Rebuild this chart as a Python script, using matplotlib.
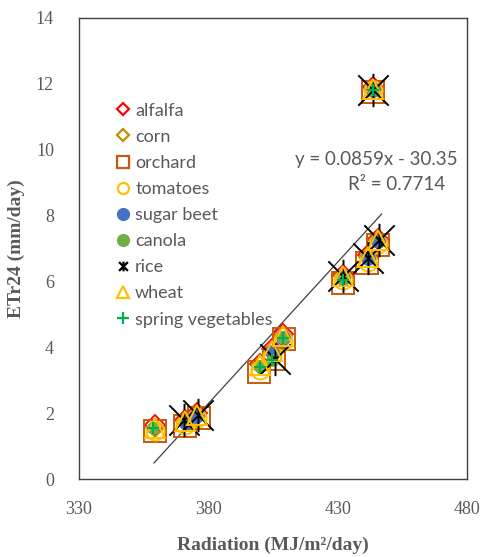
import matplotlib
matplotlib.use("Agg")
import matplotlib.pyplot as plt
from matplotlib.lines import Line2D
from matplotlib.path import Path

# ---- data (Radiation MJ/m2/day, ETr24 mm/day) ----
alfalfa_x = [359.2, 371.0, 375.5, 399.8, 404.8, 408.7, 432.2, 441.7, 445.6, 443.6]
alfalfa_y = [1.65, 1.80, 2.00, 3.50, 3.95, 4.40, 6.20, 6.80, 7.30, 11.90]
corn_x = [359.2, 371.0, 375.5, 399.8, 404.8, 408.7, 432.2, 441.7, 445.6, 443.6]
corn_y = [1.55, 1.75, 1.95, 3.45, 3.90, 4.35, 6.15, 6.75, 7.25, 11.85]
orchard_x = [359.5, 370.8, 376.5, 399.6, 405.5, 409.2, 432.0, 441.5, 445.5, 443.6]
orchard_y = [1.45, 1.60, 1.85, 3.25, 3.65, 4.25, 5.95, 6.55, 7.10, 11.75]
tomatoes_x = [359.2, 371.0, 375.5, 399.8, 404.8, 408.7, 432.2, 441.7, 445.6, 443.6]
tomatoes_y = [1.45, 1.65, 1.85, 3.30, 3.75, 4.20, 6.05, 6.60, 7.15, 11.80]
sugar_beet_x = [371.5, 375.3, 404.8, 408.7, 432.0, 441.6, 445.5, 443.6]
sugar_beet_y = [1.70, 1.90, 3.86, 4.29, 6.10, 6.70, 7.23, 11.82]
canola_x = [358.8, 399.8, 404.8, 408.7, 432.2, 443.6]
canola_y = [1.55, 3.40, 3.60, 4.29, 6.05, 11.82]
rice_x = [370.5, 376.0, 405.6, 432.0, 441.8, 446.0, 443.6]
rice_y = [1.80, 1.95, 3.65, 6.15, 6.70, 7.25, 11.82]
wheat_x = [359.2, 371.0, 375.5, 399.8, 404.8, 408.7, 432.2, 441.7, 445.6, 443.6]
wheat_y = [1.55, 1.75, 1.95, 3.45, 3.90, 4.35, 6.15, 6.75, 7.25, 11.85]
spring_veg_x = [358.8, 399.8, 404.8, 408.7, 432.2, 443.6]
spring_veg_y = [1.55, 3.40, 3.60, 4.29, 6.05, 11.82]

slope, intercept, r2 = 0.0859, -30.35, 0.7714
fit_x = [359.0, 447.0]

x_ticks = [330, 380, 430, 480]
y_ticks = [0, 2, 4, 6, 8, 10, 12, 14]

# ---- styling ----
grey = "#595959"
rice_marker = Path([(-1, -1), (1, 1), (-1, 1), (1, -1), (0, -1.1), (0, 1.1)],
                   [Path.MOVETO, Path.LINETO, Path.MOVETO, Path.LINETO, Path.MOVETO, Path.LINETO])

series = [
    ("alfalfa", alfalfa_x, alfalfa_y, dict(marker="D", mfc="none", mec="#FF0000", ms=10, mew=1.3)),
    ("corn", corn_x, corn_y, dict(marker="D", mfc="none", mec="#BF9000", ms=9, mew=1.3)),
    ("orchard", orchard_x, orchard_y, dict(marker="s", mfc="none", mec="#C55A11", ms=16, mew=1.4)),
    ("tomatoes", tomatoes_x, tomatoes_y, dict(marker="o", mfc="none", mec="#FFC000", ms=13, mew=1.4)),
    ("sugar beet", sugar_beet_x, sugar_beet_y, dict(marker="o", mfc="#4472C4", mec="#4472C4", ms=9.5, mew=1)),
    ("canola", canola_x, canola_y, dict(marker="o", mfc="#70AD47", mec="#70AD47", ms=8, mew=1)),
    ("rice", rice_x, rice_y, dict(marker=rice_marker, mfc="none", mec="#000000", ms=24, mew=1.4)),
    ("wheat", wheat_x, wheat_y, dict(marker="^", mfc="none", mec="#FFC000", ms=15, mew=1.4)),
    ("spring vegetables", spring_veg_x, spring_veg_y, dict(marker="+", mfc="none", mec="#00B050", ms=8, mew=1.5)),
]

legend_styles = {
    "alfalfa": dict(marker="D", mfc="none", mec="#FF0000", ms=6, mew=1.6),
    "corn": dict(marker="D", mfc="none", mec="#BF9000", ms=6, mew=1.6),
    "orchard": dict(marker="s", mfc="none", mec="#C55A11", ms=8, mew=1.6),
    "tomatoes": dict(marker="o", mfc="none", mec="#FFC000", ms=8, mew=1.6),
    "sugar beet": dict(marker="o", mfc="#4472C4", mec="#4472C4", ms=8.5, mew=1),
    "canola": dict(marker="o", mfc="#70AD47", mec="#70AD47", ms=8.5, mew=1),
    "rice": dict(marker=rice_marker, mfc="none", mec="#000000", ms=7, mew=1.6),
    "wheat": dict(marker="^", mfc="none", mec="#FFC000", ms=9, mew=1.6),
    "spring vegetables": dict(marker="+", mfc="none", mec="#00B050", ms=9, mew=1.6),
}

fig = plt.figure(figsize=(4.82, 5.57), dpi=100)
ax = fig.add_axes([79 / 482, 1 - 479 / 557, (467 - 79) / 482, (479 - 18) / 557])

for name, xs, ys, st in series:
    ax.plot(xs, ys, linestyle="none", label=name, **st)

fit_y = [slope * v + intercept for v in fit_x]
ax.plot(fit_x, fit_y, color="#404040", lw=0.9, zorder=1)

ax.set_xlim(330, 480)
ax.set_ylim(0, 14)
ax.set_xticks(x_ticks)
ax.set_yticks(y_ticks)
ax.tick_params(length=0, labelcolor=grey, labelsize=13)
for lab in ax.get_xticklabels() + ax.get_yticklabels():
    lab.set_fontfamily("Liberation Serif")
ax.tick_params(axis="y", pad=18)
ax.tick_params(axis="x", pad=16)
for sp in ax.spines.values():
    sp.set_color("#404040")
    sp.set_linewidth(1.0)

ax.set_xlabel("Radiation (MJ/m²/day)", fontfamily="Liberation Serif", fontweight="bold",
              fontsize=14, color=grey, labelpad=13)
ax.set_ylabel("ETr24 (mm/day)", fontfamily="Liberation Serif", fontweight="bold",
              fontsize=14, color=grey, labelpad=8)

H = 557
ax.text(376, H - 160, f"y = {slope}x - {abs(intercept)}", transform=None, fontsize=13.5,
        family="Lato", color=grey, ha="center", va="center")
ax.text(397, H - 185, f"R² = {r2}", transform=None, fontsize=13.5,
        family="Lato", color=grey, ha="center", va="center")

handles = [Line2D([], [], linestyle="none", **legend_styles[n]) for n, *_ in series]
labels = [n for n, *_ in series]
leg = ax.legend(handles, labels, loc="upper left", bbox_to_anchor=(0.075, 0.832),
                frameon=False, handlelength=0.8, handletextpad=0.3, labelspacing=0.56,
                borderaxespad=0, prop=dict(family="Lato", size=13))
for t in leg.get_texts():
    t.set_color(grey)

fig.savefig("out.png", dpi=100)
